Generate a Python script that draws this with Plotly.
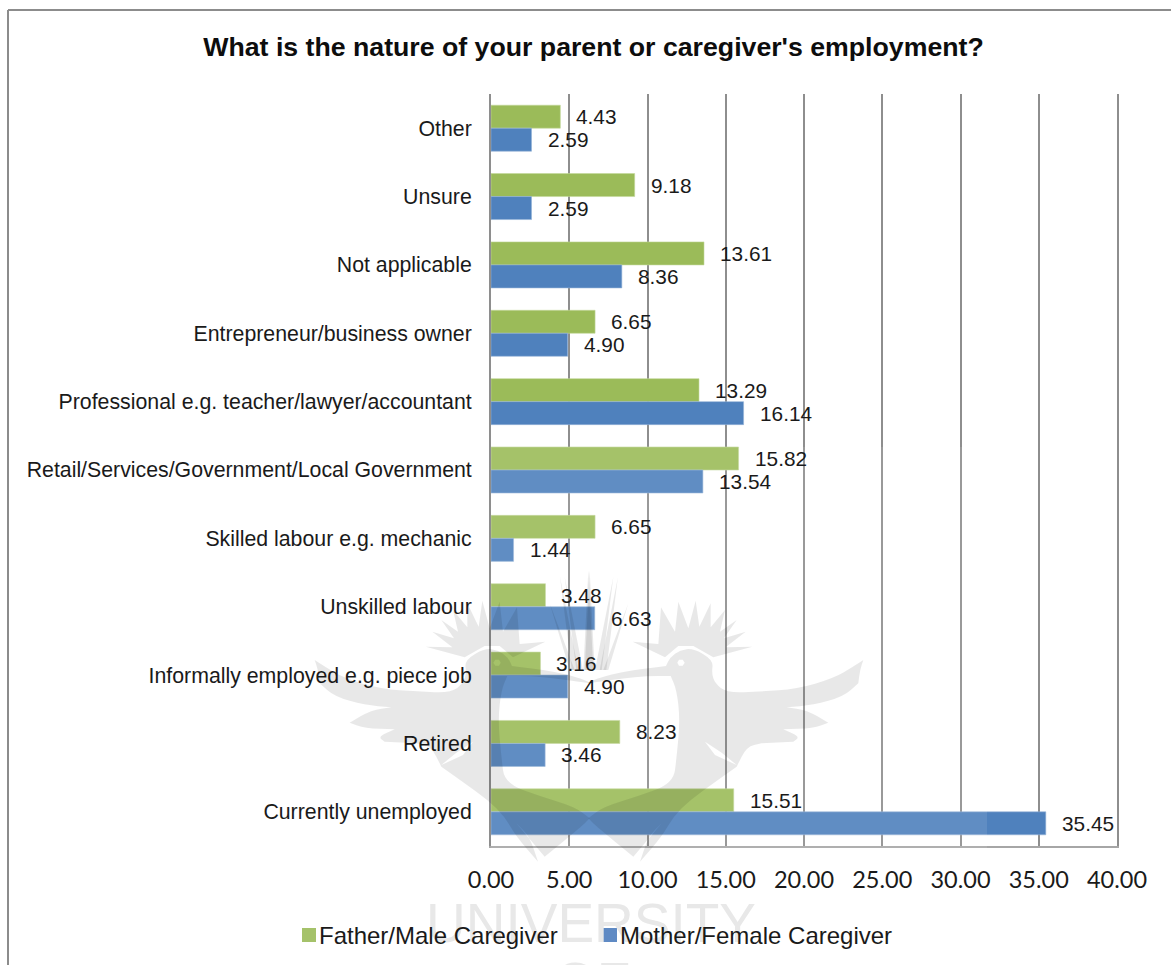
import plotly.graph_objects as go

W, H = 1171, 965

categories = ["Other", "Unsure", "Not applicable", "Entrepreneur/business owner",
              "Professional e.g. teacher/lawyer/accountant",
              "Retail/Services/Government/Local Government",
              "Skilled labour e.g. mechanic", "Unskilled labour",
              "Informally employed e.g. piece job", "Retired", "Currently unemployed"]
father = [4.43, 9.18, 13.61, 6.65, 13.29, 15.82, 6.65, 3.48, 3.16, 8.23, 15.51]
mother = [2.59, 2.59, 8.36, 4.90, 16.14, 13.54, 1.44, 6.63, 4.90, 3.46, 35.45]
x_ticks = [0, 5, 10, 15, 20, 25, 30, 35, 40]
series_names = ["Father/Male Caregiver", "Mother/Female Caregiver"]

GREEN = "#9bbb59"
BLUE = "#4f81bd"
TEXT = "#1a1a1a"
SANS = "Liberation Sans"


def px(x):
    return x / W


def py(y):
    return 1 - y / H


def fmt(p):
    return f"{px(p[0]):.5f},{py(p[1]):.5f}"


def path(points):
    return "M" + "L".join(fmt(p) for p in points) + "Z"


def smooth_path(points, corners):
    # Closed outline: vertices listed in corners stay sharp, the others are rounded.
    n = len(points)
    mid = lambda a, b: ((a[0] + b[0]) / 2, (a[1] + b[1]) / 2)
    d = "M" + fmt(mid(points[-1], points[0]))
    for i, p in enumerate(points):
        nxt = mid(p, points[(i + 1) % n])
        if i in corners:
            d += "L" + fmt(p) + "L" + fmt(nxt)
        else:
            d += "Q" + fmt(p) + " " + fmt(nxt)
    return d + "Z"


# Crest artwork behind the chart: outlines are in page pixels, measured from x=580, y=570
# at one third scale, and the second bird is mirrored about x=589.
def crest_px(pts, mirror=False):
    out = [(580 + a / 3, 570 + b / 3) for a, b in pts]
    return [(2 * 589 - a, b) for a, b in out] if mirror else out


bird = [(20, 340), (60, 322), (130, 305), (200, 295), (258, 288), (270, 262), (300, 240), (340, 235),
        (400, 270), (395, 310), (405, 340), (440, 368), (540, 365), (650, 357), (760, 325), (820, 290),
        (850, 270), (840, 300), (835, 340), (790, 380), (700, 405), (620, 412), (680, 420), (745, 458),
        (700, 475), (610, 478), (660, 500), (640, 515), (545, 520), (500, 530), (470, 590), (400, 640),
        (330, 690), (280, 740), (245, 800), (180, 875), (205, 800), (245, 760), (160, 860), (50, 770),
        (25, 745), (70, 710), (170, 680), (280, 640), (290, 560), (300, 450), (290, 360), (272, 318),
        (200, 318), (130, 325), (60, 335)]
bird_corners = {0, 4, 16, 18, 21, 23, 25, 27, 28, 30, 35, 37, 38, 40, 47}
wing_cut = [(375, 515), (405, 555), (470, 585), (425, 548)]
eye = [(292, 278), (297, 269), (308, 269), (314, 278), (308, 287), (297, 287)]
feathers = [(255, 262), (158, 215), (235, 222), (243, 112), (285, 185), (295, 95), (325, 175), (347, 92),
            (358, 170), (392, 100), (392, 172), (435, 120), (420, 185), (470, 150), (432, 205), (497, 185),
            (437, 232), (517, 230), (400, 262), (340, 228), (295, 228)]
spikes = [
    [(-5, 300), (-60, 20), (-25, 300)],
    [(10, 300), (25, 0), (40, 300)],
    [(45, 300), (100, 20), (65, 300)],
    [(70, 300), (145, 100), (85, 300)],
]

shapes = []
WASH = "rgba(0,0,0,0.09)"
# Pale band laid over the lower bars
shapes.append(dict(type="rect", xref="paper", yref="paper", x0=px(491), x1=px(987), y0=py(852), y1=py(447),
                   fillcolor="rgba(255,255,255,0.10)", line_width=0, layer="above"))
for mirror in (False, True):
    d = smooth_path(crest_px(bird, mirror), bird_corners) + path(crest_px(wing_cut, mirror)) + path(crest_px(eye, mirror))
    shapes.append(dict(type="path", xref="paper", yref="paper", path=d, fillcolor=WASH, line_width=0,
                       layer="above"))
    shapes.append(dict(type="path", xref="paper", yref="paper", path=path(crest_px(feathers, mirror)),
                       fillcolor=WASH, line_width=0, layer="above"))
    for s in spikes:
        shapes.append(dict(type="path", xref="paper", yref="paper", path=path(crest_px(s, mirror)),
                           fillcolor=WASH, line_width=0, layer="above"))

# Outer frame of the chart: left and top edges only fall inside the page
FRAME = "#8c8c8c"
shapes.append(dict(type="line", xref="paper", yref="paper", x0=px(8), x1=px(8), y0=py(10), y1=0,
                   line=dict(color=FRAME, width=2), layer="below"))
shapes.append(dict(type="line", xref="paper", yref="paper", x0=px(8), x1=1, y0=py(10), y1=py(10),
                   line=dict(color=FRAME, width=2), layer="below"))

fig = go.Figure()
fig.add_trace(go.Bar(name=series_names[0], y=categories, x=father, orientation="h", showlegend=False,
                     marker=dict(color=GREEN, line=dict(color="#c3d69b", width=0.6))))
fig.add_trace(go.Bar(name=series_names[1], y=categories, x=mother, orientation="h", showlegend=False,
                     marker=dict(color=BLUE, line=dict(color="#95b3d7", width=0.6))))

annotations = []
annotations.append(dict(x=px(591), y=py(923), xref="paper", yref="paper", text="UNIVERSITY", showarrow=False,
                        xanchor="center", yanchor="middle", font=dict(family=SANS, size=55, color="#e8e8e8")))
annotations.append(dict(x=px(592), y=py(982), xref="paper", yref="paper", text="OF", showarrow=False,
                        xanchor="center", yanchor="middle", font=dict(family=SANS, size=55, color="#e8e8e8")))
for values, shift in ((father, 11.5), (mother, -11.5)):
    for cat, v in zip(categories, values):
        annotations.append(dict(x=v, y=cat, xref="x", yref="y", text=f"{v:.2f}", showarrow=False,
                                xanchor="left", yanchor="middle", xshift=14, yshift=shift,
                                font=dict(family=SANS, size=20.8, color=TEXT)))

# Series key along the foot of the chart
key_items = [(302, "#a5c26a", series_names[0]), (603, "#5f8ac4", series_names[1])]
for left, colour, label in key_items:
    shapes.append(dict(type="rect", xref="paper", yref="paper", x0=px(left), x1=px(left + 14),
                       y0=py(942), y1=py(928), fillcolor=colour, line_width=0, layer="above"))
    annotations.append(dict(x=px(left + 15), y=py(935), xref="paper", yref="paper", text=label, showarrow=False,
                            xanchor="left", yanchor="middle", font=dict(family=SANS, size=24, color=TEXT)))

fig.update_layout(
    width=W, height=H, margin=dict(l=0, r=0, t=0, b=0, autoexpand=False), autosize=False,
    paper_bgcolor="white", plot_bgcolor="white",
    barmode="group", bargap=0.327, bargroupgap=0, showlegend=False,
    title=dict(text="<b>What is the nature of your parent or caregiver's employment?</b>",
               x=px(593.5), xanchor="center", y=py(47), yanchor="middle",
               font=dict(family=SANS, size=26.7, color="#0d0d0d")),
    xaxis=dict(domain=[px(491), px(1117)], range=[0, 40], tickvals=x_ticks,
               ticktext=[f"{t:.2f}" for t in x_ticks], showgrid=True, gridcolor="#8e8e8e", gridwidth=2,
               zeroline=False, showline=True, linecolor="#a6a6a6", linewidth=2,
               ticks="outside", ticklen=12, tickcolor="rgba(0,0,0,0)",
               tickfont=dict(family="Lato", size=23.5, color=TEXT)),
    yaxis=dict(domain=[py(846), py(94)], autorange="reversed", categoryorder="array",
               categoryarray=categories, showgrid=False, zeroline=False, showline=True, mirror=True,
               linecolor="#8e8e8e", linewidth=2, ticks="outside", ticklen=13, tickcolor="rgba(0,0,0,0)",
               tickfont=dict(family=SANS, size=21.3, color=TEXT)),
    shapes=shapes, annotations=annotations,
)

fig.write_html("out.html", config=dict(displayModeBar=False))
